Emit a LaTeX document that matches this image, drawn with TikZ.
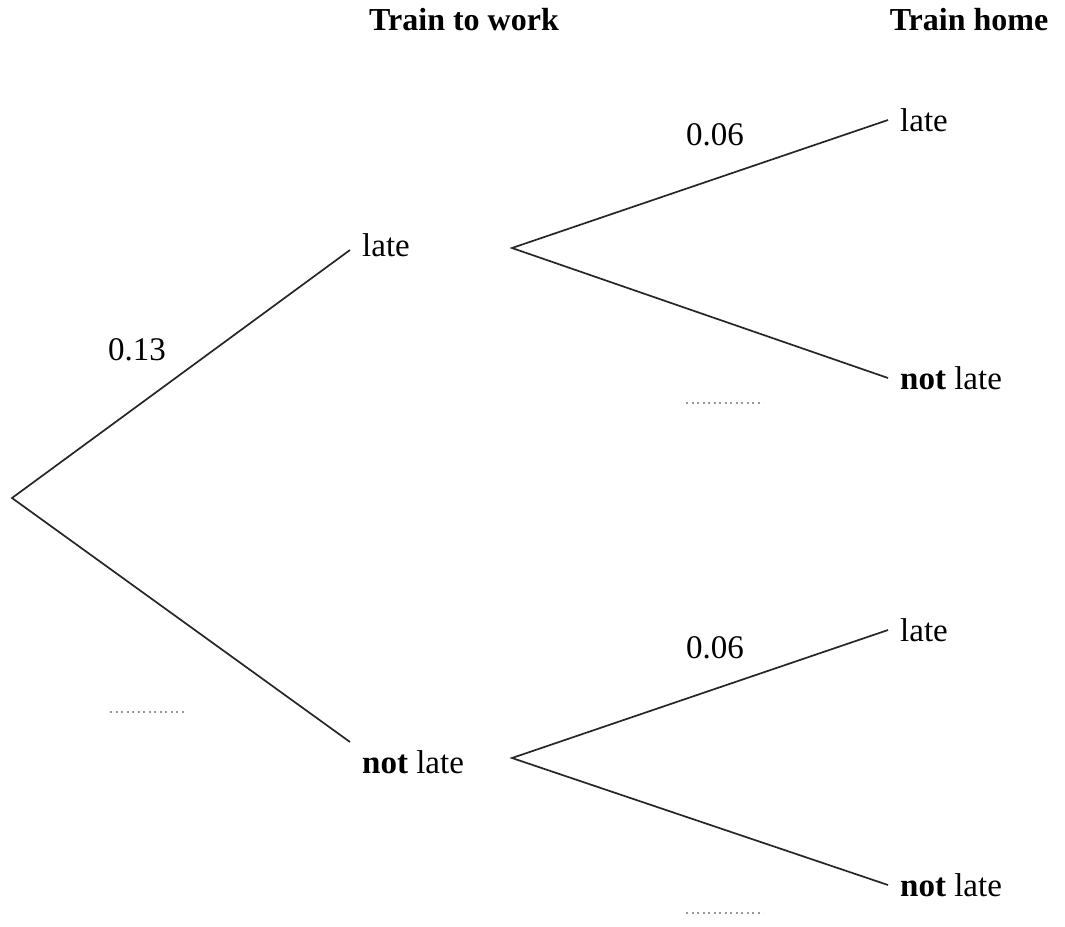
\documentclass[tikz,border=0pt]{standalone}
\usepackage{fontspec}
\setmainfont{Liberation Serif}
\begin{document}
\begin{tikzpicture}[x=1pt,y=-1pt,
  lbl/.style={inner sep=0pt,anchor=west,font=\fontsize{33}{38}\selectfont},
  num/.style={inner sep=0pt,font=\fontsize{33}{38}\selectfont},
  hdr/.style={inner sep=0pt,font=\fontsize{32}{38}\selectfont\bfseries},
  br/.style={line width=1.7pt,black!85},
  blank/.style={line width=2pt,gray!80,dash pattern=on 2pt off 3.5pt}]
\useasboundingbox (0,0) rectangle (1065,926);
% headers
\node[hdr] (h1) at (464,20) {Train to work};
\node[hdr] (h2) at (969,20) {Train home};
% nodes
\coordinate (root) at (12,498);
\coordinate (e1) at (350,250);
\coordinate (e2) at (350,742);
\node[lbl] (l1) at (362,245) {late};
\node[lbl] (n1) at (362,762) {\textbf{not} late};
\coordinate (s1) at (512,248);
\coordinate (s2) at (512,758);
\coordinate (t1) at (888,120);
\coordinate (t2) at (888,378);
\coordinate (t3) at (888,630);
\coordinate (t4) at (888,885);
\node[lbl] (ll) at (900,120) {late};
\node[lbl] (ln) at (900,378) {\textbf{not} late};
\node[lbl] (nl) at (900,630) {late};
\node[lbl] (nn) at (900,885) {\textbf{not} late};
% branches
\draw[br] (e1) -- (root) -- (e2);
\draw[br] (t1) -- (s1) -- (t2);
\draw[br] (t3) -- (s2) -- (t4);
% labels
\node[num] (p1) at (137,350) {0.13};
\node[num] (p2) at (715,135) {0.06};
\node[num] (p3) at (715,648) {0.06};
% blanks
\coordinate (b1a) at (110,712); \coordinate (b1b) at (187,712);
\coordinate (b2a) at (686,403); \coordinate (b2b) at (763,403);
\coordinate (b3a) at (686,913); \coordinate (b3b) at (763,913);
\draw[blank] (b1a) -- (b1b);
\draw[blank] (b2a) -- (b2b);
\draw[blank] (b3a) -- (b3b);
\end{tikzpicture}
\end{document}
